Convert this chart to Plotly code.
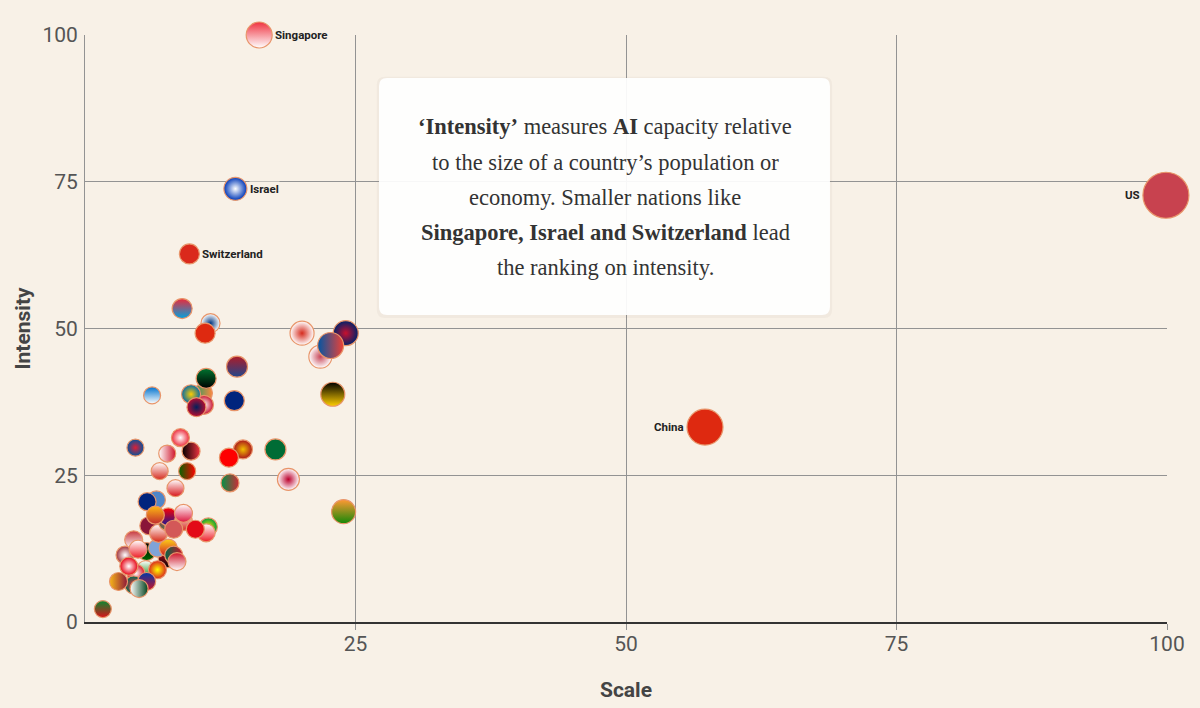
import plotly.graph_objects as go

# ---------------- data ----------------
countries = [
    "Ireland", "Denmark", "South Korea", "Qatar", "Kenya", "Egypt", "Oman", "Peru",
    "Latvia", "Serbia", "Slovenia", "Uruguay", "Colombia", "Mexico", "Indonesia",
    "Vietnam", "Tunisia", "Bulgaria", "Hungary", "Croatia", "Chile", "Poland",
    "Malaysia", "Brazil", "Slovakia", "Turkey", "Greece", "New Zealand", "Lithuania",
    "Bangladesh", "Philippines", "Pakistan", "Sri Lanka", "Ethiopia",
    "Czech Republic", "Russia", "Portugal", "Malta", "Belgium", "Austria", "Iceland",
    "Italy", "Spain", "Taiwan", "Saudi Arabia", "Japan", "India",
    "Estonia", "Sweden", "Norway", "Australia", "UAE", "Netherlands", "Germany",
    "Luxembourg", "Finland", "Hong Kong", "Canada", "UK", "France",
    "Switzerland", "Israel", "Singapore", "China", "US",
]
scale = [
    10.9, 11.0, 21.75, 5.9, 5.7, 7.6, 5.6, 4.7,
    3.7, 4.5, 4.9, 6.7, 7.7, 8.2, 8.5,
    6.7, 4.05, 6.8, 7.6, 7.7, 9.1, 9.1,
    8.2, 11.4, 11.2, 10.2, 6.6, 5.74, 6.5,
    4.5, 5.7, 5.0, 3.1, 1.65,
    8.36, 6.9, 9.44, 7.6, 9.8, 8.82, 4.66,
    13.4, 14.6, 13.3, 17.6, 18.8, 23.9,
    6.2, 9.8, 10.3, 13.8, 11.2, 14.05, 22.9,
    8.98, 11.6, 11.1, 20.06, 24.1, 22.7,
    9.65, 13.9, 16.1, 57.3, 99.9,
]
intensity = [
    39.0, 37.0, 45.2, 16.4, 12.0, 10.8, 8.9, 8.3,
    11.4, 14.0, 12.4, 12.6, 12.6, 11.4, 10.3,
    8.9, 9.5, 15.1, 17.1, 17.9, 17.1, 18.5,
    15.8, 16.2, 15.2, 15.8, 20.8, 20.5, 18.2,
    6.3, 6.9, 5.7, 6.9, 2.2,
    22.8, 25.7, 25.7, 28.7, 29.1, 31.4, 29.7,
    23.7, 29.4, 28.0, 29.4, 24.3, 18.8,
    38.6, 38.8, 36.6, 37.7, 41.5, 43.5, 38.8,
    53.4, 50.9, 49.2, 49.2, 49.2, 47.1,
    62.7, 73.8, 100.0, 33.2, 72.7,
]
bubble = [
    19, 19, 23, 18, 18, 18, 18, 18,
    18, 18, 18, 18, 18, 18, 18,
    18, 18, 18, 18, 18, 18, 18,
    18, 18, 18, 18, 18, 18, 18,
    18, 18, 18, 18, 17,
    17, 17, 17, 17, 18, 18, 17,
    18, 19, 19, 21, 22, 24,
    17, 19, 19, 20, 20, 21, 24,
    20, 19, 20, 24, 25, 26,
    20, 23, 26, 36, 46,
]
labelled = {"Singapore": "right", "Israel": "right", "Switzerland": "right",
            "US": "left", "China": "left"}

# flag colours: (gradient type, colour A, colour B)
# vertical: A top, B bottom; horizontal: A left, B right; radial: A centre, B edge
flags = {
    "Ireland": ("horizontal", "#169b62", "#ff883e"),
    "Denmark": ("radial", "#ffffff", "#c8102e"),
    "South Korea": ("radial", "#c8485a", "#ffffff"),
    "Qatar": ("none", "#8a1538", "#8a1538"),
    "Kenya": ("vertical", "#000000", "#006600"),
    "Egypt": ("vertical", "#ce1126", "#000000"),
    "Oman": ("vertical", "#ffffff", "#008000"),
    "Peru": ("radial", "#ffffff", "#d91023"),
    "Latvia": ("radial", "#ffffff", "#9e3039"),
    "Serbia": ("vertical", "#c6363c", "#ffffff"),
    "Slovenia": ("vertical", "#ffffff", "#ed1c24"),
    "Uruguay": ("none", "#7fa3d8", "#7fa3d8"),
    "Colombia": ("vertical", "#fcd116", "#ce1126"),
    "Mexico": ("horizontal", "#006847", "#ce1126"),
    "Indonesia": ("vertical", "#ce1126", "#ffffff"),
    "Vietnam": ("radial", "#ffff00", "#da251d"),
    "Tunisia": ("radial", "#ffffff", "#e70013"),
    "Bulgaria": ("vertical", "#ffffff", "#d62612"),
    "Hungary": ("vertical", "#ce2939", "#477050"),
    "Croatia": ("vertical", "#ff0000", "#171796"),
    "Chile": ("vertical", "#ffffff", "#d52b1e"),
    "Poland": ("vertical", "#ffffff", "#dc143c"),
    "Malaysia": ("none", "#d35858", "#d35858"),
    "Brazil": ("radial", "#fedf00", "#009c3b"),
    "Slovakia": ("vertical", "#ffffff", "#ee1c25"),
    "Turkey": ("none", "#e30a17", "#e30a17"),
    "Greece": ("none", "#4f86c9", "#4f86c9"),
    "New Zealand": ("none", "#00247d", "#00247d"),
    "Lithuania": ("vertical", "#fdb913", "#c1272d"),
    "Bangladesh": ("radial", "#f42a41", "#006a4e"),
    "Philippines": ("vertical", "#0038a8", "#ce1126"),
    "Pakistan": ("horizontal", "#ffffff", "#01411c"),
    "Sri Lanka": ("horizontal", "#f7b718", "#8d153a"),
    "Ethiopia": ("vertical", "#078930", "#da121a"),
    "Czech Republic": ("vertical", "#ffffff", "#d7141a"),
    "Russia": ("vertical", "#ffffff", "#d52b1e"),
    "Portugal": ("horizontal", "#006600", "#ff0000"),
    "Malta": ("horizontal", "#ffffff", "#cf142b"),
    "Belgium": ("horizontal", "#000000", "#ef3340"),
    "Austria": ("radial", "#ffffff", "#ed2939"),
    "Iceland": ("radial", "#dc1e35", "#02529c"),
    "Italy": ("horizontal", "#009246", "#ce2b37"),
    "Spain": ("radial", "#f1bf00", "#aa151b"),
    "Taiwan": ("none", "#fe0000", "#fe0000"),
    "Saudi Arabia": ("none", "#006c35", "#006c35"),
    "Japan": ("radial", "#bc002d", "#ffffff"),
    "India": ("vertical", "#ff9933", "#138808"),
    "Estonia": ("vertical", "#0072ce", "#ffffff"),
    "Sweden": ("radial", "#fecc00", "#006aa7"),
    "Norway": ("radial", "#00205b", "#ba0c2f"),
    "Australia": ("none", "#00247d", "#00247d"),
    "UAE": ("vertical", "#00732f", "#000000"),
    "Netherlands": ("vertical", "#ae1c28", "#21468b"),
    "Germany": ("vertical", "#000000", "#ffce00"),
    "Luxembourg": ("vertical", "#ed2939", "#00a1de"),
    "Finland": ("radial", "#003580", "#ffffff"),
    "Hong Kong": ("none", "#de2910", "#de2910"),
    "Canada": ("radial", "#d52b1e", "#ffffff"),
    "UK": ("radial", "#c8102e", "#012169"),
    "France": ("horizontal", "#0055a4", "#ef4135"),
    "Switzerland": ("none", "#da291c", "#da291c"),
    "Israel": ("radial", "#ffffff", "#0038b8"),
    "Singapore": ("vertical", "#ef3340", "#ffffff"),
    "China": ("none", "#de2910", "#de2910"),
    "US": ("none", "#c8424f", "#c8424f"),
}

BG = "#f8f1e7"
GRID = "#939393"

# plotly gradient: linear types put marker.color at top/left, gradient.color at
# bottom/right; radial puts gradient.color at the centre, marker.color at the edge
g_type, g_color, m_color = [], [], []
for c in countries:
    t, a, b = flags[c]
    g_type.append(t)
    if t == "radial":
        g_color.append(a); m_color.append(b)
    else:
        m_color.append(a); g_color.append(b)

fig = go.Figure()
fig.add_trace(go.Scatter(
    x=scale, y=intensity, mode="markers", text=countries,
    hovertemplate="%{text}<br>Scale: %{x}<br>Intensity: %{y}<extra></extra>",
    cliponaxis=False,
    marker=dict(size=bubble, color=m_color,
                gradient=dict(type=g_type, color=g_color),
                line=dict(color="#e8956a", width=1.2), opacity=1),
    showlegend=False,
))

annotations = []
for name, side in labelled.items():
    i = countries.index(name)
    r = bubble[i] / 2 + 2
    annotations.append(dict(
        x=scale[i], y=intensity[i], xref="x", yref="y", text=f"<b>{name}</b>",
        showarrow=False, xanchor="left" if side == "right" else "right",
        xshift=r if side == "right" else -r, yanchor="middle",
        font=dict(family="Roboto", size=11.5, color="#222222"),
        bgcolor=BG, borderpad=0,
    ))

note_lines = [
    "<b>‘Intensity’</b> measures <b>AI</b> capacity relative",
    "to the size of a country’s population or",
    "economy. Smaller nations like",
    "<b>Singapore, Israel and Switzerland</b> lead",
    "the ranking on intensity.",
]
note_y = [0.8433, 0.7836, 0.7240, 0.6627, 0.6031]
for t, yy in zip(note_lines, note_y):
    annotations.append(dict(
        x=0.4806, y=yy, xref="paper", yref="paper", text=t, showarrow=False,
        xanchor="center", yanchor="middle",
        font=dict(family="Liberation Serif", size=22.5, color="#333333"),
    ))

# rounded note box (paper coordinates)
x0, x1, y0, y1 = 0.2717, 0.6885, 0.5230, 0.9267
rx, ry = 0.0074, 0.0136
def rounded(x0, x1, y0, y1, rx, ry):
    return (f"M {x0+rx},{y1} L {x1-rx},{y1} Q {x1},{y1} {x1},{y1-ry} "
            f"L {x1},{y0+ry} Q {x1},{y0} {x1-rx},{y0} L {x0+rx},{y0} "
            f"Q {x0},{y0} {x0},{y0+ry} L {x0},{y1-ry} Q {x0},{y1} {x0+rx},{y1} Z")

shapes = [
    dict(type="path", xref="paper", yref="paper",
         path=rounded(x0 - 0.002, x1 + 0.002, y0 - 0.005, y1 + 0.002, rx, ry),
         fillcolor="rgba(120,100,80,0.05)", line=dict(width=0), layer="above"),
    dict(type="path", xref="paper", yref="paper",
         path=rounded(x0, x1, y0, y1, rx, ry),
         fillcolor="rgba(255,255,255,0.93)", line=dict(width=0), layer="above"),
]

fig.update_layout(
    width=1200, height=708,
    margin=dict(l=85, r=33, t=35, b=86),
    paper_bgcolor=BG, plot_bgcolor=BG,
    font=dict(family="Roboto", color="#555555"),
    annotations=annotations, shapes=shapes,
    xaxis=dict(
        range=[0, 100], tickvals=[25, 50, 75, 100], ticktext=["25", "50", "75", "100"],
        showgrid=True, gridcolor=GRID, gridwidth=1, zeroline=False,
        showline=True, linecolor="#333333", linewidth=2,
        ticks="outside", ticklen=6, tickcolor=GRID, tickwidth=1,
        ticklabelstandoff=-4,
        tickfont=dict(family="Roboto", size=21, color="#555555"),
        title=dict(text="<b>Scale</b>", standoff=27,
                   font=dict(family="Roboto", size=21, color="#444444")),
        automargin=False, fixedrange=True,
    ),
    yaxis=dict(
        range=[0, 100], tickvals=[0, 25, 50, 75, 100],
        showgrid=True, gridcolor=GRID, gridwidth=1, zeroline=False,
        showline=True, linecolor=GRID, linewidth=1,
        ticks="", tickfont=dict(family="Roboto", size=21, color="#555555"),
        ticklabelstandoff=2,
        title=dict(text="<b>Intensity</b>", standoff=6,
                   font=dict(family="Roboto", size=21, color="#444444")),
        automargin=False, fixedrange=True,
    ),
)

fig.write_html(
    "out.html",
    config={"displayModeBar": False},
    post_script="document.body.style.margin='0';document.body.style.background='#f8f1e7';",
)
